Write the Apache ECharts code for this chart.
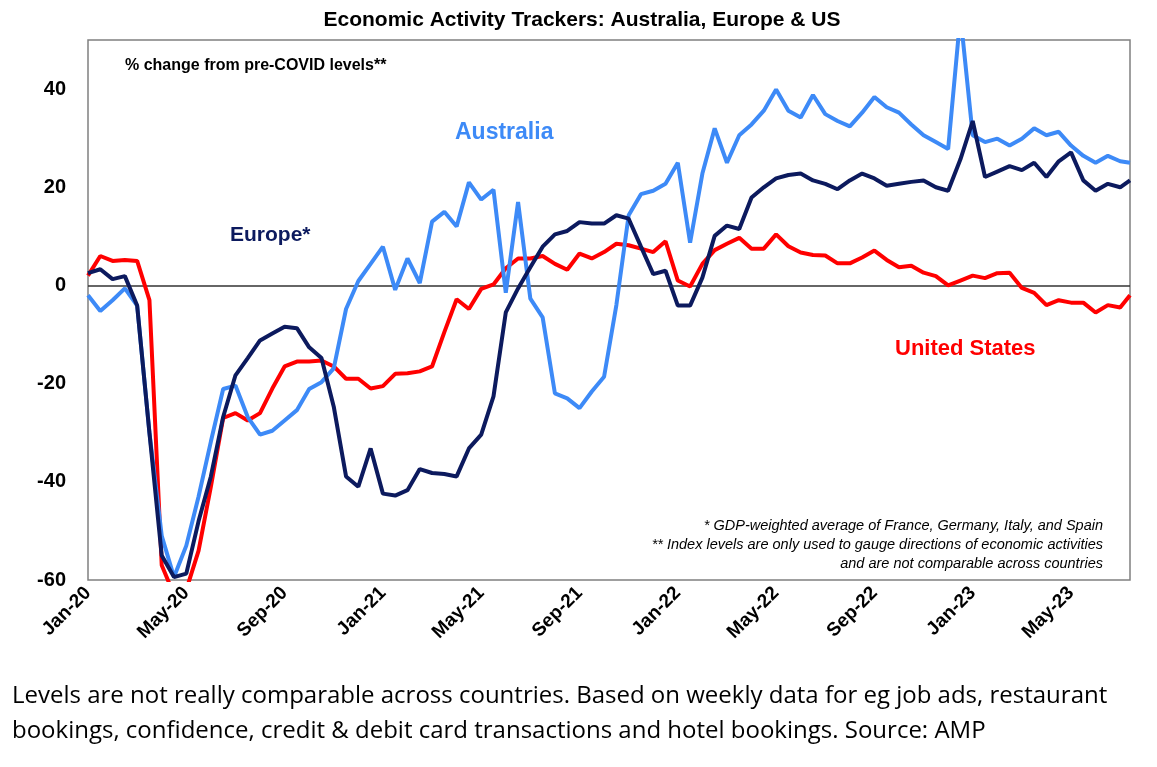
<!DOCTYPE html>
<html><head><meta charset="utf-8">
<script src="https://cdn.jsdelivr.net/npm/echarts@6/dist/echarts.min.js"></script>
<style>html,body{margin:0;padding:0;background:#fff}#c{width:1157px;height:767px}</style>
</head><body><div id="c"></div>
<script>
// x positions in months since Jan-2020 (half-month steps)
const months = [];
for (let i = 0; i <= 84; i++) months.push(i / 2);
months.push(42.4);
const tickLabels = ['Jan-20','May-20','Sep-20','Jan-21','May-21','Sep-21','Jan-22','May-22','Sep-22','Jan-23','May-23'];
const australia = [-2,-5.2,-3,-0.6,-4.1,-30,-51,-59.4,-53,-43,-31.8,-21.1,-20.4,-26.8,-30.4,-29.6,-27.5,-25.4,-21.1,-19.7,-16.9,-4.8,0.9,4.4,7.9,-0.9,5.5,0.5,13,
 15,12,21,17.5,19.5,-1.5,17,-2.7,-6.5,-22,-23,-25,-21.6,-18.6,-4,14.3,18.6,19.3,20.7,25,8.7,22.8,32,25,30.6,32.8,35.6,39.9,
 35.6,34.2,38.8,34.9,33.5,32.4,35.2,38.4,36.3,35.2,32.8,30.6,29.2,27.8,55,30.6,29.2,29.9,28.5,29.9,32,30.6,31.3,28.5,26.4,25,26.4,25.3,25];
const europe = [2.5,3.3,1.3,1.9,-4.1,-30,-55,-59.4,-58.7,-48,-38.9,-26.8,-18.3,-14.8,-11.2,-9.8,-8.4,-8.7,-12.6,-14.8,-24.7,-38.9,-41,-33.2,-42.4,-42.8,-41.7,-37.4,-38.2,
 -38.4,-38.9,-33.2,-30.4,-22.6,-5.5,-0.6,3.7,7.9,10.4,11.1,12.9,12.6,12.6,14.3,13.6,7.9,2.3,3,-4.1,-4.1,1.6,10.1,12.2,11.5,17.9,20,21.8,
 22.5,22.8,21.4,20.7,19.6,21.4,22.8,21.8,20.3,20.7,21.1,21.4,20,19.3,25.7,33.5,22.1,23.2,24.3,23.5,25,22.1,25.3,27.1,21.4,19.3,20.7,20,21.4];
const us = [2,6,5,5.2,5,-3,-57,-63,-62,-54,-41,-27,-26,-27.5,-26,-21,-16.5,-15.5,-15.5,-15.3,-16.5,-19,-19,-21,-20.5,-18,-17.9,-17.5,-16.5,
 -9.5,-2.8,-4.8,-0.7,0.2,3.5,5.5,5.5,6,4.4,3.2,6.5,5.5,6.8,8.5,8.2,7.5,6.8,9,1,-0.2,4.4,7.2,8.5,9.7,7.5,7.5,10.4,
 8,6.7,6.2,6.1,4.5,4.5,5.7,7.1,5.2,3.7,4,2.6,1.9,0,1,2,1.5,2.5,2.6,-0.5,-1.5,-4,-3,-3.5,-3.5,-5.5,-4,-4.5,-2];

const pair = a => months.map((m, i) => [m, a[i]]);
const F = 'Liberation Sans, Arial, sans-serif';
const chart = echarts.init(document.getElementById('c'));
const lineS = (name, data, color) => ({name, type:'line', data: pair(data), showSymbol:false, lineStyle:{color, width:4}, itemStyle:{color}, clip:true, z:3});
chart.setOption({
  animation:false,
  title:{text:'Economic Activity Trackers: Australia, Europe & US', left:577, textAlign:'center', top:5,
    textStyle:{fontFamily:F, fontSize:21, fontWeight:'bold', color:'#000'}},
  grid:{left:88, right:27, top:40, bottom:187, show:true, borderColor:'#808080', borderWidth:1.5},
  xAxis:{type:'value', min:0, max:42.4, interval:4, axisLine:{show:false}, axisTick:{show:false}, splitLine:{show:false},
     axisLabel:{rotate:45, fontFamily:F, fontSize:19, fontWeight:'bold', color:'#000', margin:10,
       formatter:v => (Math.abs(v/4 - Math.round(v/4))<1e-6 ? (tickLabels[Math.round(v/4)]||'') : '')}},
  yAxis:{type:'value', min:-60, max:50, interval:20, axisLine:{show:false}, axisTick:{show:false}, splitLine:{show:false},
    axisLabel:{fontFamily:F, fontSize:20, fontWeight:'bold', color:'#000', margin:22,
      formatter:v => (v % 20 === 0 ? String(v) : '')}},
  series:[
    lineS('United States', us, '#ff0000'),
    lineS('Australia', australia, '#3d8af7'),
    Object.assign(lineS('Europe', europe, '#0c1a5e'), {
      markLine:{silent:true, symbol:'none', label:{show:false}, lineStyle:{color:'#333', width:1.5, type:'solid'}, z:1, data:[{yAxis:0}]}})
  ],
  graphic:[
    {type:'text', left:125, top:58, style:{text:'% change from pre-COVID levels**', font:'bold 16px '+F, fill:'#000'}},
    {type:'text', left:455, top:121, style:{text:'Australia', font:'bold 23px '+F, fill:'#3d8af7'}},
    {type:'text', left:230, top:225, style:{text:'Europe*', font:'bold 21px '+F, fill:'#0c1a5e'}},
    {type:'text', left:895, top:338, style:{text:'United States', font:'bold 22px '+F, fill:'#ff0000'}},
    {type:'text', right:54, top:518, style:{text:'* GDP-weighted average of France, Germany, Italy, and Spain', font:'italic 14.5px '+F, fill:'#000', align:'right'}},
    {type:'text', right:54, top:537, style:{text:'** Index levels are only used to gauge directions of economic activities', font:'italic 14.5px '+F, fill:'#000', align:'right'}},
    {type:'text', right:54, top:556, style:{text:'and are not comparable across countries', font:'italic 14.5px '+F, fill:'#000', align:'right'}},
    {type:'text', left:12, top:684, style:{text:'Levels are not really comparable across countries. Based on weekly data for eg job ads, restaurant', font:'24px "Open Sans", sans-serif', fill:'#000'}},
    {type:'text', left:12, top:719, style:{text:'bookings, confidence, credit & debit card transactions and hotel bookings. Source: AMP', font:'24px "Open Sans", sans-serif', fill:'#000'}}
  ]
});
</script></body></html>
